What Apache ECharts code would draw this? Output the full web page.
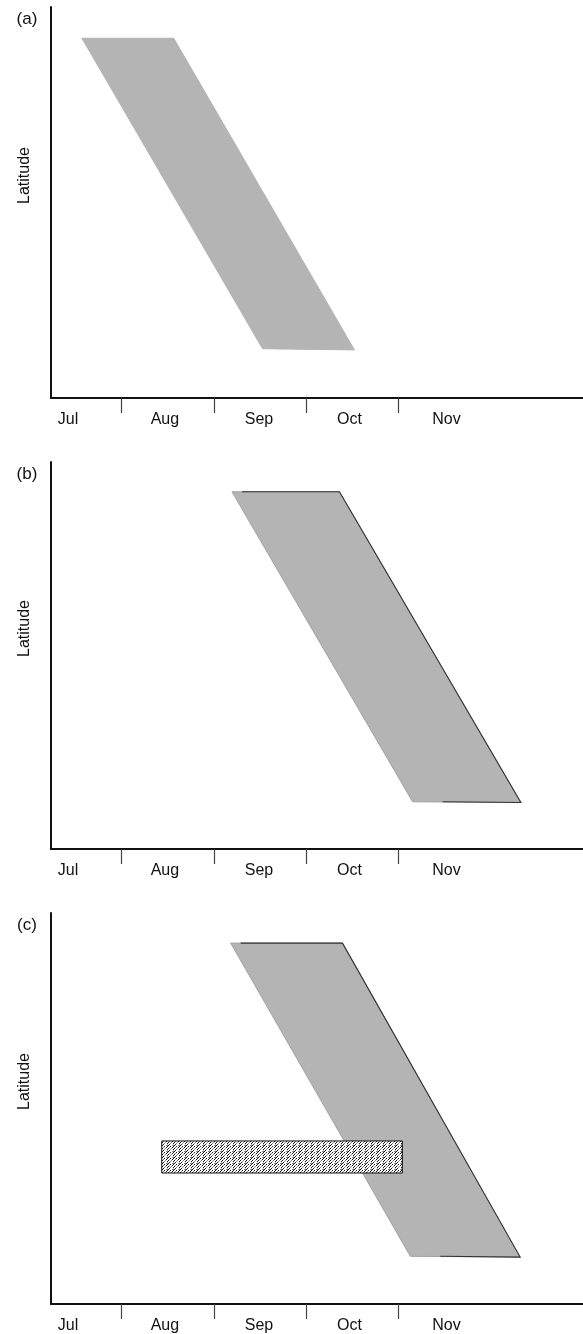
<!DOCTYPE html>
<html><head><meta charset="utf-8">
<script src="https://cdn.jsdelivr.net/npm/echarts@6/dist/echarts.min.js"></script>
<style>html,body{margin:0;padding:0;background:#fff}#c{width:583px;height:1334px}</style>
</head><body><div id="c"></div>
<script>
// x in months since 1 Jul (1 = Aug 1, ...), y = relative latitude (0..100)
const monthLabels = ['Jul', 'Aug', 'Sep', 'Oct', 'Nov'];
const monthLabelPos = [0.42, 1.47, 2.49, 3.47, 4.52];
const monthTicks = [1, 2, 3, 4];
const panelNames = ['(a)', '(b)', '(c)'];
// band vertices: top-left, top-right, bottom-right, bottom-left  [month, latitude]
const bandA = [[0.571, 92.0], [1.566, 92.0], [3.524, 12.3], [2.528, 12.6]];
const bandB = [[2.197, 92.3], [3.361, 92.3], [5.327, 12.0], [4.154, 12.2]];
const bandC = [[2.183, 92.3], [3.394, 92.3], [5.319, 12.0], [4.129, 12.2]];
// hatched box in (c): [xStart, yTop], [xEnd, yBottom]
const hatchC = [[1.436, 41.7], [4.043, 33.5]];

const panels = [
  { top: 7, height: 391, band: bandA, edge: false },
  { top: 462, height: 387, band: bandB, edge: true },
  { top: 913, height: 391, band: bandC, edge: true }
];

// hatch pattern
const pc = document.createElement('canvas');
pc.width = 6; pc.height = 6;
const g = pc.getContext('2d');
g.fillStyle = '#fff'; g.fillRect(0, 0, 6, 6);
g.strokeStyle = '#111'; g.lineWidth = 1;
g.beginPath();
g.moveTo(0, 6); g.lineTo(2.5, 3.5);
g.moveTo(3.5, 2.5); g.lineTo(6, 0);
g.moveTo(0, 3); g.lineTo(1.5, 1.5);
g.moveTo(4.5, 6); g.lineTo(6, 4.5);
g.stroke();
g.fillStyle = '#222';
g.fillRect(2, 0, 1, 1); g.fillRect(5, 3, 1, 1); g.fillRect(1, 4, 1, 1);
const hatchPattern = { image: pc, repeat: 'repeat' };

const FONT = 'Liberation Sans, Arial, Helvetica, sans-serif';
const grid = [], xAxis = [], yAxis = [], series = [], graphic = [];

panels.forEach((p, i) => {
  grid.push({ left: 51, right: 0, top: p.top, height: p.height, containLabel: false });
  xAxis.push({
    type: 'value', gridIndex: i, min: 0.236, max: 6,
    axisLine: { show: true, onZero: false, lineStyle: { color: '#111', width: 2 } },
    axisTick: { show: true, customValues: monthTicks, length: 15, lineStyle: { color: '#444', width: 1.2 } },
    axisLabel: {
      show: true, customValues: monthLabelPos, margin: 14, fontSize: 16, color: '#111', fontFamily: FONT,
      formatter: v => { const k = monthLabelPos.findIndex(q => Math.abs(q - v) < 1e-6); return k >= 0 ? monthLabels[k] : ''; }
    },
    splitLine: { show: false }
  });
  yAxis.push({
    type: 'value', gridIndex: i, min: 0, max: 100,
    axisLine: { show: true, onZero: false, lineStyle: { color: '#111', width: 2 } },
    axisTick: { show: false }, axisLabel: { show: false }, splitLine: { show: false }
  });
  series.push({
    type: 'custom', xAxisIndex: i, yAxisIndex: i,
    data: [p.band.flat()],
    encode: { x: [0, 2, 4, 6], y: [1, 3, 5, 7] },
    renderItem: (params, api) => {
      const pts = [0, 1, 2, 3].map(k => api.coord([api.value(2 * k), api.value(2 * k + 1)]));
      const children = [{
        type: 'polygon', shape: { points: pts },
        style: { fill: '#b4b4b4', stroke: p.edge ? '#a2a2a2' : '#b4b4b4', lineWidth: 1 }
      }];
      if (p.edge) {
        children.push({ type: 'polyline', shape: { points: [pts[0].map((c, j) => j === 0 ? c + 10 : c), pts[1], pts[2], pts[3].map((c, j) => j === 0 ? c + 30 : c)] },
          style: { fill: null, stroke: '#333', lineWidth: 1.1 } });
      }
      return { type: 'group', children };
    },
    silent: true, z: 2
  });
  graphic.push({ type: 'text', x: 27, y: p.top + 12, style: { text: panelNames[i], font: '17px ' + FONT, fill: '#111', align: 'center', verticalAlign: 'middle' } });
  graphic.push({ type: 'text', x: 25, y: p.top + p.height / 2 - 27, rotation: Math.PI / 2, style: { text: 'Latitude', font: '16px ' + FONT, fill: '#111', align: 'center', verticalAlign: 'middle' } });
});

series.push({
  type: 'custom', xAxisIndex: 2, yAxisIndex: 2,
  data: [hatchC.flat()],
  encode: { x: [0, 2], y: [1, 3] },
  renderItem: (params, api) => {
    const a = api.coord([api.value(0), api.value(1)]);
    const b = api.coord([api.value(2), api.value(3)]);
    return {
      type: 'rect', shape: { x: a[0], y: a[1], width: b[0] - a[0], height: b[1] - a[1] },
      style: { fill: hatchPattern, stroke: '#111', lineWidth: 1 }
    };
  },
  silent: true, z: 3
});

const chart = echarts.init(document.getElementById('c'), null, { renderer: 'canvas' });
chart.setOption({ animation: false, backgroundColor: '#fff', grid, xAxis, yAxis, series, graphic });
</script></body></html>
